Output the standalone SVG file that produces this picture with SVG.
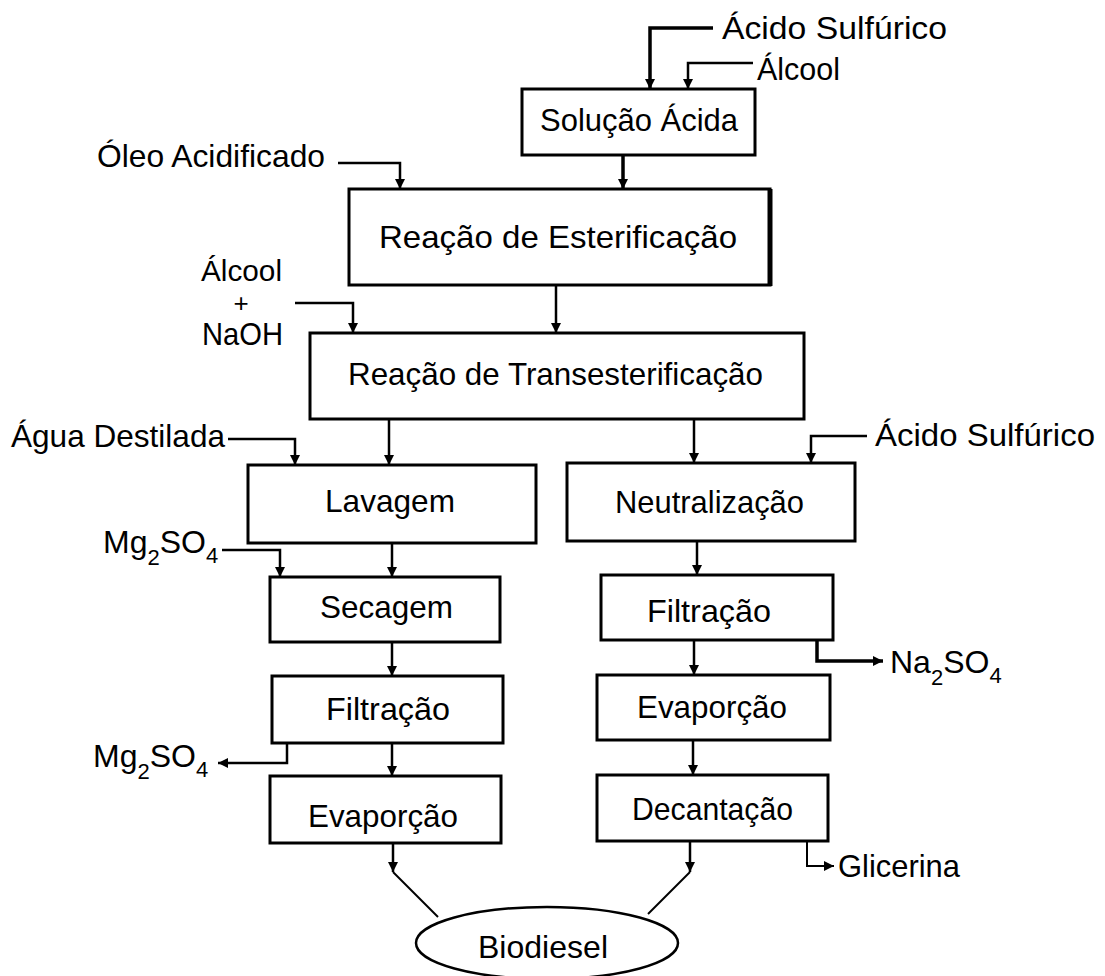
<svg xmlns="http://www.w3.org/2000/svg" width="1105" height="976" viewBox="0 0 1105 976">
<defs>
<marker id="ah" viewBox="0 0 10 10" refX="10" refY="5" markerWidth="10" markerHeight="10" markerUnits="userSpaceOnUse" orient="auto">
<path d="M0,0 L10,5 L0,10 z" fill="#000"/>
</marker>
</defs>
<style>
.box{fill:#fff;stroke:#000;stroke-width:3}
.t{font-family:"Liberation Sans",Arial,sans-serif;font-size:32px;fill:#000}
.c{fill:none;stroke:#000;stroke-width:2.5;marker-end:url(#ah)}
.n{fill:none;stroke:#000;stroke-width:2}
</style>
<rect width="1105" height="976" fill="#fff"/>
<g id="connectors">
<path class="c" d="M713,28 H650 V89" style="stroke-width:3.5"/>
<path class="c" d="M753,63 H688 V89"/>
<path class="c" d="M623,155 V189" style="stroke-width:3.5"/>
<path class="c" d="M338,163 H400 V189"/>
<path class="c" d="M295,303 H353 V333"/>
<path class="c" d="M556,285 V333"/>
<path class="c" d="M228,439 H295 V465"/>
<path class="c" d="M389,419 V465"/>
<path class="c" d="M694,419 V463"/>
<path class="c" d="M867,436 H811 V463"/>
<path class="c" d="M222,550 H280 V577"/>
<path class="c" d="M392,543 V577"/>
<path class="c" d="M697,541 V575"/>
<path class="c" d="M817,640 V661 H883" style="stroke-width:3.5"/>
<path class="c" d="M392,642 V676"/>
<path class="c" d="M694,640 V675"/>
<path class="c" d="M287,743 V763 H218"/>
<path class="c" d="M392,743 V776"/>
<path class="c" d="M693,740 V775"/>
<path class="c" d="M807,841 V866 H834" style="stroke-width:2"/>
<path class="c" d="M393,843 V872"/>
<path class="n" d="M393,872 L438,917"/>
<path class="c" d="M690,841 V872"/>
<path class="n" d="M690,872 L648,914"/>
</g>
<g id="solucao-acida">
<rect class="box" x="522" y="89" width="233" height="66"/>
<text class="t" x="540" y="131" textLength="198" lengthAdjust="spacingAndGlyphs">Solução Ácida</text>
</g>
<g id="acido-sulfurico-top"><text class="t" x="722" y="39" textLength="225" lengthAdjust="spacingAndGlyphs">Ácido Sulfúrico</text></g>
<g id="alcool-top"><text class="t" x="757" y="80" textLength="83" lengthAdjust="spacingAndGlyphs">Álcool</text></g>
<g id="oleo"><text class="t" x="97" y="167" textLength="228" lengthAdjust="spacingAndGlyphs">Óleo Acidificado</text></g>
<g id="esterificacao">
<rect class="box" x="349" y="189" width="421" height="96"/>
<line x1="770" y1="189" x2="770" y2="286" stroke="#000" stroke-width="5"/>
<text class="t" x="379" y="248" textLength="358" lengthAdjust="spacingAndGlyphs">Reação de Esterificação</text>
</g>
<g id="alcool-naoh">
<text class="t" x="201" y="281" textLength="81" lengthAdjust="spacingAndGlyphs" style="font-size:30px">Álcool</text>
<text class="t" x="241" y="312" text-anchor="middle" style="font-size:26px">+</text>
<text class="t" x="202" y="345" textLength="81" lengthAdjust="spacingAndGlyphs">NaOH</text>
</g>
<g id="transesterificacao">
<rect class="box" x="310" y="333" width="494" height="86"/>
<text class="t" x="348" y="385" textLength="415" lengthAdjust="spacingAndGlyphs">Reação de Transesterificação</text>
</g>
<g id="agua"><text class="t" x="11" y="447" textLength="214" lengthAdjust="spacingAndGlyphs">Água Destilada</text></g>
<g id="lavagem">
<rect class="box" x="248" y="465" width="288" height="78"/>
<text class="t" x="325" y="512" textLength="130" lengthAdjust="spacingAndGlyphs">Lavagem</text>
</g>
<g id="acido-sulfurico-right"><text class="t" x="875" y="446" textLength="220" lengthAdjust="spacingAndGlyphs">Ácido Sulfúrico</text></g>
<g id="neutralizacao">
<rect class="box" x="567" y="463" width="288" height="78"/>
<text class="t" x="615" y="513" textLength="189" lengthAdjust="spacingAndGlyphs">Neutralização</text>
</g>
<g id="mg2so4-in"><text class="t" x="103" y="553">Mg<tspan font-size="22" dy="12">2</tspan><tspan dy="-12">SO</tspan><tspan font-size="22" dy="10">4</tspan></text></g>
<g id="secagem">
<rect class="box" x="270" y="577" width="230" height="65"/>
<text class="t" x="320" y="618" textLength="133" lengthAdjust="spacingAndGlyphs">Secagem</text>
</g>
<g id="filtracao-right">
<rect class="box" x="601" y="575" width="232" height="65"/>
<text class="t" x="647" y="622" textLength="124" lengthAdjust="spacingAndGlyphs">Filtração</text>
</g>
<g id="na2so4"><text class="t" x="890" y="673">Na<tspan font-size="22" dy="12">2</tspan><tspan dy="-12">SO</tspan><tspan font-size="22" dy="10">4</tspan></text></g>
<g id="filtracao-left">
<rect class="box" x="272" y="676" width="231" height="67"/>
<text class="t" x="326" y="720" textLength="124" lengthAdjust="spacingAndGlyphs">Filtração</text>
</g>
<g id="evaporcao-right">
<rect class="box" x="597" y="675" width="233" height="65"/>
<text class="t" x="637" y="718" textLength="150" lengthAdjust="spacingAndGlyphs">Evaporção</text>
</g>
<g id="mg2so4-out"><text class="t" x="93" y="767">Mg<tspan font-size="22" dy="12">2</tspan><tspan dy="-12">SO</tspan><tspan font-size="22" dy="10">4</tspan></text></g>
<g id="evaporcao-left">
<rect class="box" x="270" y="776" width="231" height="67"/>
<text class="t" x="308" y="827" textLength="150" lengthAdjust="spacingAndGlyphs">Evaporção</text>
</g>
<g id="decantacao">
<rect class="box" x="597" y="775" width="231" height="66"/>
<text class="t" x="632" y="820" textLength="161" lengthAdjust="spacingAndGlyphs">Decantação</text>
</g>
<g id="glicerina"><text class="t" x="838" y="877" textLength="122" lengthAdjust="spacingAndGlyphs">Glicerina</text></g>
<g id="biodiesel">
<ellipse cx="547" cy="943" rx="131" ry="36" fill="#fff" stroke="#000" stroke-width="2.5"/>
<text class="t" x="478" y="958" textLength="130" lengthAdjust="spacingAndGlyphs">Biodiesel</text>
</g>
</svg>
